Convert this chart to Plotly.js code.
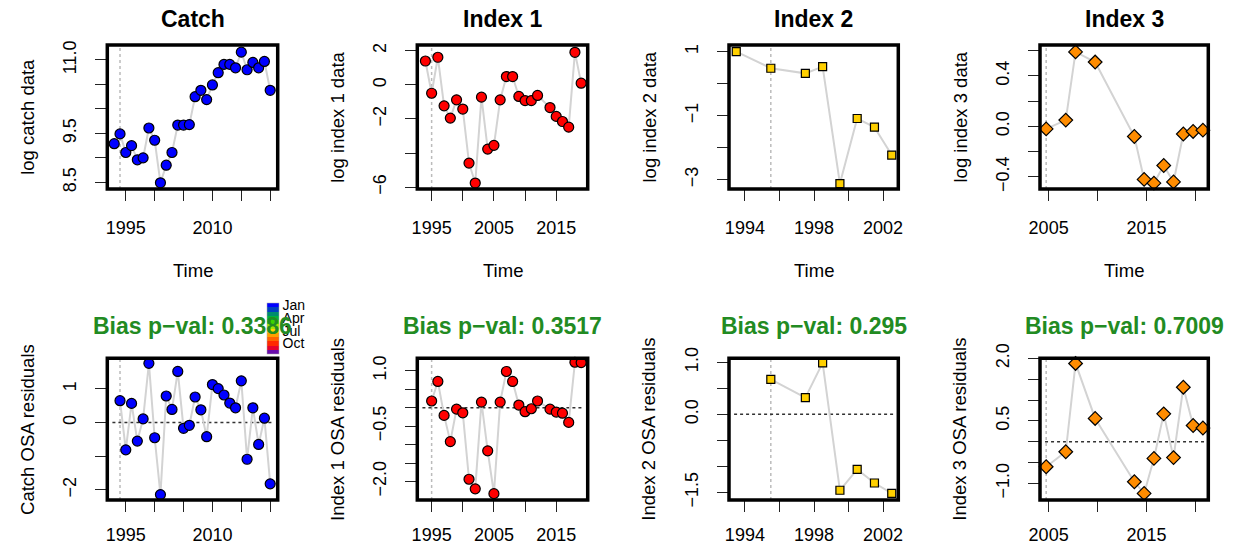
<!DOCTYPE html>
<html>
<head>
<meta charset="utf-8">
<script src="https://cdn.plot.ly/plotly-3.0.1.min.js"></script>
<style>html,body{margin:0;padding:0;background:#fff;}#chart{width:1255px;height:548px;}</style>
</head>
<body>
<div id="chart"></div>
<script>
// ---------------- DATA ----------------
const catchYears = [1993,1994,1995,1996,1997,1998,1999,2000,2001,2002,2003,2004,2005,2006,2007,2008,2009,2010,2011,2012,2013,2014,2015,2016,2017,2018,2019,2020];
const catchLog = [9.29,9.49,9.11,9.25,8.96,9.00,9.61,9.36,8.49,8.85,9.11,9.67,9.67,9.68,10.25,10.38,10.19,10.49,10.74,10.91,10.91,10.84,11.16,10.80,10.95,10.84,10.97,10.38];
const catchResYears = [1994,1995,1996,1997,1998,1999,2000,2001,2002,2003,2004,2005,2006,2007,2008,2009,2010,2011,2012,2013,2014,2015,2016,2017,2018,2019,2020];
const catchRes = [0.65,-0.81,0.57,-0.55,0.11,1.76,-0.45,-2.14,0.79,0.39,1.52,-0.17,-0.08,0.76,0.38,-0.42,1.13,1.01,0.82,0.58,0.44,1.24,-1.09,0.44,-0.65,0.13,-1.82];

const idx1Years = [1994,1995,1996,1997,1998,1999,2000,2001,2002,2003,2004,2005,2006,2007,2008,2009,2010,2011,2012,2014,2015,2016,2017,2018,2019];
const idx1Log = [1.40,-0.49,1.62,-1.23,-1.95,-0.88,-1.42,-4.59,-5.76,-0.72,-3.77,-3.55,-0.88,0.49,0.49,-0.68,-0.92,-0.92,-0.62,-1.33,-1.85,-2.15,-2.48,1.91,0.10];
const idx1ResYears = [1995,1996,1997,1998,1999,2000,2001,2002,2003,2004,2005,2006,2007,2008,2009,2010,2011,2012,2014,2015,2016,2017,2018,2019];
const idx1Res = [0.18,0.71,-0.21,-0.92,-0.04,-0.14,-1.94,-2.20,0.15,-1.17,-2.33,0.15,0.98,0.71,0.07,-0.11,-0.03,0.18,-0.04,-0.12,-0.15,-0.40,1.23,1.22];

const idx2Years = [1993.5,1995.5,1997.5,1998.5,1999.5,2000.5,2001.5,2002.5];
const idx2Log = [1.00,0.48,0.32,0.53,-3.12,-1.09,-1.36,-2.23];
const idx2ResYears = [1995.5,1997.5,1998.5,1999.5,2000.5,2001.5,2002.5];
const idx2Res = [0.67,0.32,0.99,-1.46,-1.06,-1.32,-1.52];

const idx3Years = [2004.75,2006.75,2007.75,2009.75,2013.75,2014.75,2015.75,2016.75,2017.75,2018.75,2019.75,2020.75];
const idx3Log = [-0.02,0.05,0.59,0.51,-0.08,-0.42,-0.45,-0.31,-0.44,-0.06,-0.04,-0.03];
const idx3ResYears = [2004.75,2006.75,2007.75,2009.75,2013.75,2014.75,2015.75,2016.75,2017.75,2018.75,2019.75,2020.75];
const idx3Res = [-0.60,-0.24,1.88,0.56,-0.96,-1.24,-0.40,0.67,-0.38,1.31,0.39,0.33];

const panelTitles = ["Catch","Index 1","Index 2","Index 3"];
const biasTitles = ["Bias p\u2212val: 0.3386","Bias p\u2212val: 0.3517","Bias p\u2212val: 0.295","Bias p\u2212val: 0.7009"];
const dataYTitles = ["log catch data","log index 1 data","log index 2 data","log index 3 data"];
const resYTitles = ["Catch OSA residuals","Index 1 OSA residuals","Index 2 OSA residuals","Index 3 OSA residuals"];
const xTitle = "Time";

const monthNums = [1,2,3,4,5,6,7,8,9,10,11,12];
const monthLabels = ["Jan","Apr","Jul","Oct"];
const monthLabelNums = [1,4,7,10];
const monthColors = ["#0000FF","#0040C0","#008C6E","#00B43C","#3CD200","#A0E600","#FFD700","#FFA000","#FF6400","#FF2800","#E6002D","#6A0DAD"];

// tick labels
const xTicks = [
  {vals:[1995,2000,2005,2010,2015,2020], text:["1995","","","2010","",""]},
  {vals:[1995,2000,2005,2010,2015], text:["1995","","2005","","2015"]},
  {vals:[1994,1996,1998,2000,2002], text:["1994","","1998","","2002"]},
  {vals:[2005,2010,2015,2020], text:["2005","","2015",""]}
];
const yTicksData = [
  {vals:[8.5,9,9.5,10,10.5,11], text:["8.5","","9.5","","","11.0"]},
  {vals:[-6,-4,-2,0,2], text:["\u22126","","\u22122","0","2"]},
  {vals:[-3,-2,-1,0,1], text:["\u22123","","\u22121","","1"]},
  {vals:[-0.4,-0.2,0,0.2,0.4,0.6], text:["\u22120.4","","0.0","","0.4",""]}
];
const yTicksRes = [
  {vals:[-2,-1,0,1], text:["\u22122","","0","1"]},
  {vals:[-2,-1.5,-1,-0.5,0,0.5,1], text:["\u22122.0","","","\u22120.5","","","1.0"]},
  {vals:[-1.5,-1,-0.5,0,0.5,1], text:["\u22121.5","","","0.0","","1.0"]},
  {vals:[-1,-0.5,0,0.5,1,1.5,2], text:["\u22121.0","","","0.5","","","2.0"]}
];

// ---------------- LAYOUT HELPERS ----------------
const W = 1255, H = 548;
const colsPx = [[107.3,277.7],[417.3,587.7],[729,898.3],[1040,1208.3]];
const rowsPx = [[45,189],[358.3,500]];
const xRanges = [[1991.8,2021.3],[1992.7,2020.05],[1993.08,2002.88],[2004.12,2021.3]];
const yRangesData = [[8.364,11.306],[-6.11,2.34],[-3.29,1.205],[-0.496,0.645]];
const yRangesRes = [[-2.30,1.91],[-2.502,1.337],[-1.647,1.077],[-1.398,2.004]];
const markerSym = ["circle","circle","square","diamond"];
const markerCol = ["#0000FF","#FF0000","#FFD000","#FF8C00"];
const markerSize = [10,10,8,10.5];
const firstResX = [1994,1995,1995.5,2004.75];
const xLabelStandoff = [11, 7];

const FONT = "Liberation Sans, Arial, Helvetica, sans-serif";
const dataX = [catchYears, idx1Years, idx2Years, idx3Years];
const dataY = [catchLog, idx1Log, idx2Log, idx3Log];
const resX = [catchResYears, idx1ResYears, idx2ResYears, idx3ResYears];
const resY = [catchRes, idx1Res, idx2Res, idx3Res];

const traces = [];
const layout = {
  width: W, height: H,
  margin: {l:0, r:0, t:0, b:0},
  paper_bgcolor: "#fff", plot_bgcolor: "#fff",
  showlegend: false,
  font: {family: FONT, size: 18, color: "#000"},
  shapes: [], annotations: []
};

function axisName(i){ return i === 0 ? "" : String(i+1); }

for (let row = 0; row < 2; row++) {
  for (let c = 0; c < 4; c++) {
    const k = row*4 + c;
    const an = axisName(k);
    const xa = "x" + an, ya = "y" + an;
    const xs = row === 0 ? dataX[c] : resX[c];
    const ys = row === 0 ? dataY[c] : resY[c];
    traces.push({
      type: "scatter", mode: "lines+markers", x: xs, y: ys, xaxis: xa, yaxis: ya,
      line: {color: "#D3D3D3", width: 2},
      marker: {symbol: markerSym[c], color: markerCol[c], size: markerSize[c], line: {color: "#000", width: 1.2}},
      cliponaxis: false, hoverinfo: "skip"
    });
    const xd = [colsPx[c][0]/W, colsPx[c][1]/W];
    const yd = [1 - rowsPx[row][1]/H, 1 - rowsPx[row][0]/H];
    const yt = row === 0 ? yTicksData[c] : yTicksRes[c];
    layout["xaxis" + an] = {
      domain: xd, range: xRanges[c], anchor: ya, showgrid: false, zeroline: false, showline: false,
      tickmode: "array", tickvals: xTicks[c].vals, ticktext: xTicks[c].text,
      ticks: "outside", ticklen: 11, tickwidth: 1, tickcolor: "#222",
      ticklabelstandoff: xLabelStandoff[row],
      tickfont: {family: FONT, size: 18, color: "#000"}, fixedrange: true
    };
    layout["yaxis" + an] = {
      domain: yd, range: row === 0 ? yRangesData[c] : yRangesRes[c], anchor: xa,
      showgrid: false, zeroline: false, showline: false,
      tickmode: "array", tickvals: yt.vals, ticktext: yt.text,
      ticks: "outside", ticklen: 11, tickwidth: 1, tickcolor: "#222",
      tickangle: -90, ticklabelstandoff: 12,
      tickfont: {family: FONT, size: 18, color: "#000"}, fixedrange: true
    };
    const xdom = xa + " domain", ydom = ya + " domain";
    // vertical dotted line at first residual
    layout.shapes.push({type:"line", layer:"below", xref: xa, yref: ydom, x0: firstResX[c], x1: firstResX[c], y0: 0, y1: 1,
      line: {color: "#BBBBBB", width: 1.5, dash: "dot"}});
    if (row === 1) {
      layout.shapes.push({type:"line", layer:"below", xref: xdom, yref: ya, x0: 0.03, x1: 0.98, y0: 0, y1: 0,
        line: {color: "#333", width: 1.5, dash: "dot"}});
    }
    // box
    layout.shapes.push({type:"rect", layer:"above", xref: xdom, yref: ydom, x0:0, x1:1, y0:0, y1:1,
      line: {color: "#000", width: 3.5}, fillcolor: "rgba(0,0,0,0)"});
    // titles
    if (row === 0) {
      layout.annotations.push({xref: xdom, yref: ydom, x: 0.5, y: 1, yanchor: "middle", xanchor: "center",
        yshift: 26, showarrow: false, text: "<b>" + panelTitles[c] + "</b>",
        font: {family: FONT, size: 23, color: "#000"}});
      layout.annotations.push({xref: xdom, yref: ydom, x: 0.5, y: 0, yanchor: "middle", xanchor: "center",
        yshift: -81, showarrow: false, text: xTitle, font: {family: FONT, size: 18.5, color: "#000"}});
      layout.annotations.push({xref: xdom, yref: ydom, x: 0, y: 0.5, yanchor: "middle", xanchor: "center",
        xshift: -80.5, textangle: -90, showarrow: false, text: dataYTitles[c], font: {family: FONT, size: 18.5, color: "#000"}});
    } else {
      layout.annotations.push({xref: xdom, yref: ydom, x: 0.5, y: 1, yanchor: "middle", xanchor: "center",
        yshift: 32, showarrow: false, text: "<b>" + biasTitles[c] + "</b>",
        font: {family: FONT, size: 23, color: "#228B22"}});
      layout.annotations.push({xref: xdom, yref: ydom, x: 0, y: 0.5, yanchor: "middle", xanchor: "center",
        xshift: -80.5, textangle: -90, showarrow: false, text: resYTitles[c], font: {family: FONT, size: 18.5, color: "#000"}});
    }
  }
}

// month colour key (colorbar on an invisible helper trace)
const cs = [];
for (let i = 0; i < 12; i++) {
  const col = monthColors[11 - i];
  cs.push([i/12, col]); cs.push([(i+1)/12, col]);
}
traces.push({
  type: "scatter", mode: "markers", x: monthNums, y: monthNums, xaxis: "x9", yaxis: "y9",
  hoverinfo: "skip",
  marker: {color: monthNums.map(m => -m), cmin: -12.5, cmax: -0.5, colorscale: cs, opacity: 0, showscale: true,
    colorbar: {x: 266.7/W, xanchor: "left", y: 1 - 303/H, yanchor: "top",
      thickness: 12, thicknessmode: "pixels", len: 51, lenmode: "pixels",
      xpad: 0, ypad: 0, outlinewidth: 0.5, outlinecolor: "#aaa", ticks: "", ticklabelposition: "outside",
      tickmode: "array", tickvals: monthLabelNums.map(m => -m), ticktext: monthLabels,
      tickfont: {family: FONT, size: 14, color: "#000"}}}
});
layout.xaxis9 = {domain: [0, 0.01], visible: false, anchor: "y9", range: [100, 200]};
layout.yaxis9 = {domain: [0, 0.01], visible: false, anchor: "x9", range: [100, 200]};

Plotly.newPlot("chart", traces, layout, {staticPlot: true, displayModeBar: false});
</script>
</body>
</html>
